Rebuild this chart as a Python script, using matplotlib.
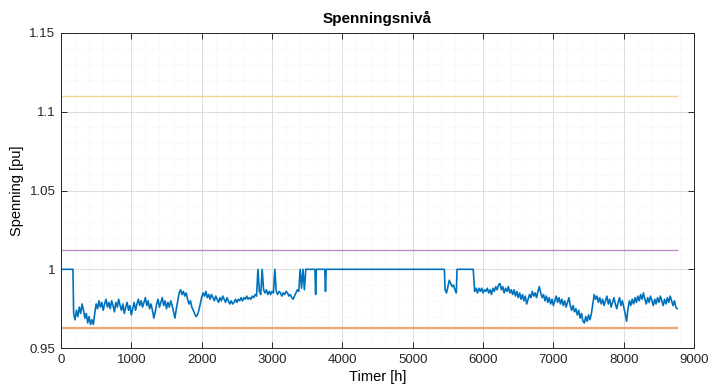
import numpy as np
import matplotlib
matplotlib.use("Agg")
import matplotlib.pyplot as plt
from matplotlib.ticker import MultipleLocator

# Voltage limits and setpoints [pu]
upper_limit = 1.11
setpoint_high = 1.0125
lower_limit = 0.9625

# Hourly voltage, read at 20 h steps plus the flat stretches at 1.0 pu
start_hours = [0, 170]
start_volt = [1.0, 1.0]

volt_a_start = 180
volt_a = [
    0.972, 0.968, 0.974, 0.970, 0.976, 0.972, 0.978, 0.974, 0.969, 0.972,
    0.966, 0.970, 0.965, 0.968, 0.965, 0.972, 0.978, 0.975, 0.980, 0.976,
    0.979, 0.974, 0.978, 0.981, 0.976, 0.979, 0.975, 0.980, 0.977, 0.973,
    0.979, 0.976, 0.981, 0.977, 0.974, 0.978, 0.972, 0.976, 0.979, 0.974,
    0.977, 0.971, 0.975, 0.979, 0.974, 0.978, 0.981, 0.977, 0.980, 0.976,
    0.979, 0.982, 0.977, 0.980, 0.975, 0.978, 0.974, 0.969, 0.973, 0.978,
    0.981, 0.976, 0.979, 0.982, 0.977, 0.980, 0.975, 0.979, 0.976, 0.980,
    0.977, 0.973, 0.969, 0.975, 0.980, 0.985, 0.987, 0.984, 0.986, 0.983,
    0.985, 0.981, 0.978, 0.980, 0.976, 0.974, 0.972, 0.970, 0.971, 0.974,
    0.978, 0.982, 0.985, 0.983, 0.986, 0.982, 0.984, 0.981, 0.984, 0.982,
    0.980, 0.983, 0.981, 0.979, 0.982, 0.980, 0.983, 0.981, 0.979, 0.982,
    0.980, 0.978, 0.980, 0.978, 0.979, 0.981, 0.979, 0.981, 0.980, 0.982,
    0.980, 0.982, 0.981, 0.983, 0.981, 0.982, 0.981, 0.983, 0.982, 0.984,
    0.983, 1.000, 0.986, 0.984, 1.000, 0.987, 0.985, 0.987, 0.984, 0.986,
    0.984, 0.986, 0.985, 1.000, 0.986, 0.984, 0.986, 0.985, 0.983, 0.985,
    0.984, 0.986, 0.985, 0.983, 0.984, 0.982, 0.981, 0.983, 0.985, 0.987,
    0.986, 1.000, 0.988, 1.000, 0.987, 1.000,
]

flat_b_hours = [3500, 3610, 3620, 3630, 3750, 3760, 3770, 5450]
flat_b_volt = [1.0, 1.0, 0.984, 1.0, 1.0, 0.986, 1.0, 1.0]

volt_c_start = 5460
volt_c = [0.987, 0.985, 0.989, 0.993, 0.991, 0.989, 0.990, 0.987, 0.985]

flat_d_hours = [5630, 5860]
flat_d_volt = [1.0, 1.0]

volt_e_start = 5880
volt_e = [
    0.986, 0.988, 0.985, 0.988, 0.986, 0.988, 0.985, 0.987, 0.986, 0.988,
    0.985, 0.987, 0.984, 0.988, 0.986, 0.989, 0.987, 0.990, 0.991, 0.987,
    0.989, 0.985, 0.988, 0.986, 0.989, 0.985, 0.987, 0.984, 0.987, 0.983,
    0.986, 0.982, 0.985, 0.981, 0.984, 0.980, 0.983, 0.978, 0.981, 0.984,
    0.982, 0.986, 0.983, 0.985, 0.982, 0.986, 0.989, 0.985, 0.982, 0.984,
    0.980, 0.983, 0.979, 0.982, 0.978, 0.981, 0.977, 0.980, 0.983, 0.979,
    0.982, 0.978, 0.981, 0.977, 0.980, 0.976, 0.979, 0.982, 0.977, 0.974,
    0.977, 0.973, 0.975, 0.971, 0.974, 0.969, 0.972, 0.967, 0.966, 0.970,
    0.967, 0.971, 0.968, 0.972, 0.978, 0.984, 0.981, 0.983, 0.979, 0.982,
    0.978, 0.981, 0.977, 0.980, 0.983, 0.978, 0.981, 0.976, 0.979, 0.982,
    0.978, 0.975, 0.979, 0.982, 0.977, 0.980, 0.976, 0.972, 0.967, 0.975,
    0.980, 0.977, 0.981, 0.978, 0.982, 0.979, 0.983, 0.980, 0.984, 0.981,
    0.985, 0.981, 0.978, 0.982, 0.979, 0.983, 0.980, 0.977, 0.981, 0.978,
    0.982, 0.979, 0.983, 0.980, 0.977, 0.981, 0.978, 0.982, 0.979, 0.983,
    0.980, 0.977, 0.980, 0.976, 0.975,
]

STEP = 20


def build_series():
    hours = np.concatenate([
        start_hours,
        volt_a_start + STEP * np.arange(len(volt_a)),
        flat_b_hours,
        volt_c_start + STEP * np.arange(len(volt_c)),
        flat_d_hours,
        volt_e_start + STEP * np.arange(len(volt_e)),
    ])
    volt = np.concatenate([start_volt, volt_a, flat_b_volt, volt_c,
                           flat_d_volt, volt_e])
    return hours, volt


def draw():
    plt.rcParams["font.family"] = ["Liberation Sans", "DejaVu Sans"]
    fig = plt.figure(figsize=(7.09, 3.92), dpi=100)
    ax = fig.add_axes([0.086, 0.112, 0.893, 0.804])

    hours, volt = build_series()
    t_end = hours[-1]

    ax.plot(hours, volt, color="#0072BD", lw=1.2)
    ax.plot([0, t_end], [lower_limit] * 2, color="#F0A27A", lw=1.6)
    ax.plot([0, t_end], [upper_limit] * 2, color="#F2D68A", lw=1.0)
    ax.plot([0, t_end], [setpoint_high] * 2, color="#B98CC4", lw=1.0)

    ax.set_xlim(0, 9000)
    ax.set_ylim(0.95, 1.15)
    ax.xaxis.set_major_locator(MultipleLocator(1000))
    ax.xaxis.set_minor_locator(MultipleLocator(200))
    ax.yaxis.set_major_locator(MultipleLocator(0.05))
    ax.yaxis.set_minor_locator(MultipleLocator(0.01))
    ax.set_yticks([0.95, 1.0, 1.05, 1.1, 1.15])
    ax.set_yticklabels(["0.95", "1", "1.05", "1.1", "1.15"])

    ax.grid(which="major", color="#dcdcdc", lw=0.7)
    ax.grid(which="minor", color="#efefef", lw=0.6, ls=":")
    ax.set_axisbelow(True)
    ax.tick_params(which="major", direction="in", length=4, width=0.7,
                   top=True, right=True, labelsize=9.5, colors="#262626",
                   pad=4)
    ax.tick_params(which="minor", length=0, top=True, right=True)
    for sp in ax.spines.values():
        sp.set_color("#262626")
        sp.set_linewidth(0.7)

    ax.set_title("Spenningsnivå", fontsize=11, fontweight="bold", pad=7)
    ax.set_xlabel("Timer [h]", fontsize=10.5, labelpad=3)
    ax.set_ylabel("Spenning [pu]", fontsize=10.5, labelpad=4)

    fig.savefig("out.png", dpi=100, facecolor="white")


draw()
